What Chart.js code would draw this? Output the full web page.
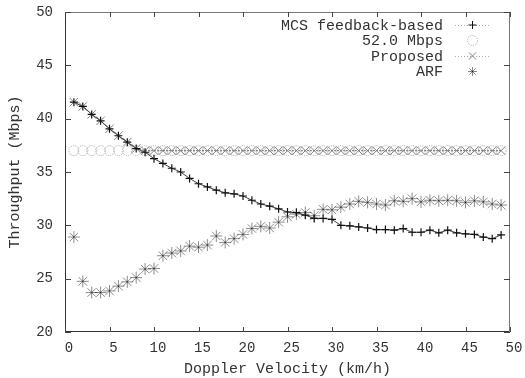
<!DOCTYPE html>
<html>
<head>
<meta charset="utf-8">
<script src="https://cdn.jsdelivr.net/npm/chart.js@4"></script>
<style>
  html, body { margin: 0; padding: 0; background: #fff; }
  #wrap { width: 525px; height: 378px; }
</style>
</head>
<body>
<div id="wrap"><canvas id="mycanvas_tput" width="525" height="378"></canvas></div>
<script>
// Doppler velocity (km/h)
var velocity = [1, 2, 3, 4, 5, 6, 7, 8, 9, 10,
    11, 12, 13, 14, 15, 16, 17, 18, 19, 20,
    21, 22, 23, 24, 25, 26, 27, 28, 29, 30,
    31, 32, 33, 34, 35, 36, 37, 38, 39, 40,
    41, 42, 43, 44, 45, 46, 47, 48, 49];

// throughput (Mbps)
var mcs_feedback = [41.55, 41.15, 40.4, 39.8, 39.05, 38.4, 37.8, 37.2, 36.85, 36.25,
    35.8, 35.35, 35.0, 34.4, 33.9, 33.6, 33.3, 33.05, 32.95, 32.75,
    32.35, 32.0, 31.8, 31.55, 31.25, 31.2, 30.95, 30.65, 30.65, 30.55,
    30.0, 29.95, 29.85, 29.75, 29.6, 29.6, 29.55, 29.7, 29.35, 29.35,
    29.55, 29.3, 29.55, 29.3, 29.2, 29.15, 28.9, 28.75, 29.1];
var fixed_52 = [37.0, 37.0, 37.0, 37.0, 37.0, 37.0, 37.0, 37.0, 37.0, 37.0,
    37.0, 37.0, 37.0, 37.0, 37.0, 37.0, 37.0, 37.0, 37.0, 37.0,
    37.0, 37.0, 37.0, 37.0, 37.0, 37.0, 37.0, 37.0, 37.0, 37.0,
    37.0, 37.0, 37.0, 37.0, 37.0, 37.0, 37.0, 37.0, 37.0, 37.0,
    37.0, 37.0, 37.0, 37.0, 37.0, 37.0, 37.0, 37.0, 37.0];
var proposed = [41.55, 41.15, 40.4, 39.8, 39.05, 38.4, 37.8, 37.2, 37.0, 37.0,
    37.0, 37.0, 37.0, 37.0, 37.0, 37.0, 37.0, 37.0, 37.0, 37.0,
    37.0, 37.0, 37.0, 37.0, 37.0, 37.0, 37.0, 37.0, 37.0, 37.0,
    37.0, 37.0, 37.0, 37.0, 37.0, 37.0, 37.0, 37.0, 37.0, 37.0,
    37.0, 37.0, 37.0, 37.0, 37.0, 37.0, 37.0, 37.0, 37.0];
var arf = [28.9, 24.75, 23.7, 23.7, 23.85, 24.3, 24.7, 25.1, 25.9, 25.95,
    27.15, 27.4, 27.6, 28.05, 27.95, 28.15, 29.0, 28.4, 28.75, 29.15,
    29.7, 29.9, 29.75, 30.3, 30.8, 31.05, 31.2, 30.9, 31.5, 31.45,
    31.7, 32.0, 32.25, 32.15, 32.0, 31.9, 32.3, 32.25, 32.5, 32.2,
    32.35, 32.3, 32.35, 32.3, 32.15, 32.3, 32.2, 32.0, 31.9];

var x_ticks = [0, 5, 10, 15, 20, 25, 30, 35, 40, 45, 50];
var y_ticks = [20, 25, 30, 35, 40, 45, 50];

var FONT = "'Liberation Mono', 'DejaVu Sans Mono', monospace";
var TXT = '#333';

function pts(ys){
    return velocity.map(function(v, i){ return {x: v, y: ys[i]}; });
}

// gnuplot-like frame with inward ticks on all four sides
var framePlugin = {
    id: 'frame',
    afterDatasetsDraw: function(chart){
        var ctx = chart.ctx, a = chart.chartArea;
        var sx = chart.scales.x, sy = chart.scales.y;
        var l = a.left + 0.5, r = a.right - 0.5, t = a.top + 0.5, b = a.bottom - 0.5;
        ctx.save();
        ctx.lineWidth = 1;
        ctx.strokeStyle = '#333';
        ctx.beginPath();
        ctx.moveTo(l, t); ctx.lineTo(l, b); ctx.lineTo(r, b);
        ctx.stroke();
        ctx.strokeStyle = '#777';
        ctx.beginPath();
        ctx.moveTo(l, t); ctx.lineTo(r, t); ctx.lineTo(r, b);
        ctx.stroke();
        ctx.strokeStyle = '#444';
        ctx.beginPath();
        x_ticks.forEach(function(v){
            var px = Math.round(sx.getPixelForValue(v)) + 0.5;
            ctx.moveTo(px, a.bottom); ctx.lineTo(px, a.bottom - 5);
            ctx.moveTo(px, a.top); ctx.lineTo(px, a.top + 5);
        });
        y_ticks.forEach(function(v){
            var py = Math.round(sy.getPixelForValue(v)) + 0.5;
            ctx.moveTo(a.left, py); ctx.lineTo(a.left + 6, py);
            ctx.moveTo(a.right, py); ctx.lineTo(a.right - 6, py);
        });
        ctx.stroke();
        ctx.restore();
    }
};

// the fixed-rate circles are drawn with a dotted pen
var dottedPointsPlugin = {
    id: 'dottedPoints',
    beforeDatasetDraw: function(chart, args){
        if (chart.data.datasets[args.index].dottedPoints){
            chart.ctx.save();
            chart.ctx.setLineDash([1, 1]);
        }
    },
    afterDatasetDraw: function(chart, args){
        if (chart.data.datasets[args.index].dottedPoints){
            chart.ctx.restore();
        }
    }
};

// key in the upper right: right-aligned text, sample to its right
var keyPlugin = {
    id: 'key',
    afterDatasetsDraw: function(chart){
        var ctx = chart.ctx;
        var textRight = 443, sampleL = 455, sampleR = 490, row0 = 25, rowH = 15.5;
        ctx.save();
        ctx.font = '15px ' + FONT;
        ctx.textAlign = 'right';
        ctx.textBaseline = 'middle';
        chart.data.datasets.forEach(function(ds, i){
            var y = row0 + i * rowH;
            ctx.fillStyle = TXT;
            ctx.fillText(ds.label, textRight, y + 1);
            ctx.save();
            if (ds.showLine !== false){
                ctx.strokeStyle = '#aaa';
                ctx.lineWidth = 1;
                ctx.setLineDash([1, 2]);
                ctx.beginPath();
                ctx.moveTo(sampleL, y + 0.5);
                ctx.lineTo(sampleR, y + 0.5);
                ctx.stroke();
                ctx.setLineDash([]);
            }
            if (ds.dottedPoints) ctx.setLineDash([1, 1]);
            ctx.strokeStyle = ds.pointBorderColor;
            ctx.fillStyle = 'rgba(0,0,0,0)';
            Chart.helpers.drawPoint(ctx, {
                pointStyle: ds.pointStyle,
                radius: ds.keyRadius || ds.pointRadius,
                rotation: 0,
                borderWidth: ds.pointBorderWidth
            }, (sampleL + sampleR) / 2, y);
            ctx.restore();
        });
        ctx.restore();
    }
};

var ctx_tput = document.getElementById('mycanvas_tput').getContext('2d');
var myChart_tput = new Chart(ctx_tput, {
    type: 'line',
    data: {
        datasets: [{
            label: 'MCS feedback-based',
            data: pts(mcs_feedback),
            borderColor: '#444',
            borderWidth: 1,
            pointStyle: 'cross',
            pointRadius: 4,
            pointBorderColor: '#111',
            pointBorderWidth: 1.2,
            pointBackgroundColor: 'rgba(0,0,0,0)',
            order: 1
        },{
            label: '52.0 Mbps',
            data: pts(fixed_52),
            showLine: false,
            dottedPoints: true,
            pointStyle: 'circle',
            pointRadius: 5,
            pointBorderColor: '#aaa',
            pointBorderWidth: 1,
            pointBackgroundColor: 'rgba(0,0,0,0)',
            order: 4
        },{
            label: 'Proposed',
            data: pts(proposed),
            borderColor: '#777',
            borderWidth: 1,
            borderDash: [2, 1],
            pointStyle: 'crossRot',
            pointRadius: 6,
            keyRadius: 5,
            pointBorderColor: '#808080',
            pointBorderWidth: 1,
            pointBackgroundColor: 'rgba(0,0,0,0)',
            order: 2
        },{
            label: 'ARF',
            data: pts(arf),
            showLine: false,
            pointStyle: 'star',
            pointRadius: 6,
            keyRadius: 4.5,
            pointBorderColor: 'rgba(0,0,0,0.45)',
            pointBorderWidth: 1,
            pointBackgroundColor: 'rgba(0,0,0,0)',
            order: 3
        }]
    },
    options: {
        responsive: false,
        animation: false,
        layout: { padding: { top: 12, right: 15, left: 0, bottom: 0 } },
        plugins: {
            legend: { display: false },
            tooltip: { enabled: false }
        },
        elements: { line: { tension: 0, fill: false } },
        scales: {
            x: {
                type: 'linear',
                min: 0,
                max: 50,
                afterBuildTicks: function(scale){
                    scale.ticks = x_ticks.map(function(v){ return {value: v}; });
                },
                afterFit: function(scale){
                    scale.height = 46;
                    scale.paddingLeft = 0;
                    scale.paddingRight = 0;
                },
                grid: { display: false, drawTicks: false },
                border: { display: false },
                ticks: {
                    padding: 8,
                    labelOffset: 4,
                    color: TXT,
                    font: { family: FONT, size: 14 },
                    maxRotation: 0
                },
                title: {
                    display: true,
                    text: 'Doppler Velocity (km/h)',
                    color: TXT,
                    font: { family: FONT, size: 15 },
                    padding: { top: 0, bottom: 0 }
                }
            },
            y: {
                min: 20,
                max: 50,
                afterBuildTicks: function(scale){
                    scale.ticks = y_ticks.map(function(v){ return {value: v}; });
                },
                afterFit: function(scale){
                    scale.width = 65;
                    scale.paddingTop = 0;
                    scale.paddingBottom = 0;
                },
                grid: { display: false, drawTicks: false },
                border: { display: false },
                ticks: {
                    padding: 12,
                    color: TXT,
                    font: { family: FONT, size: 14 }
                },
                title: {
                    display: true,
                    text: 'Throughput (Mbps)',
                    color: TXT,
                    font: { family: FONT, size: 15 },
                    padding: { top: 6, bottom: 0 }
                }
            }
        }
    },
    plugins: [framePlugin, dottedPointsPlugin, keyPlugin]
});
</script>
</body>
</html>
